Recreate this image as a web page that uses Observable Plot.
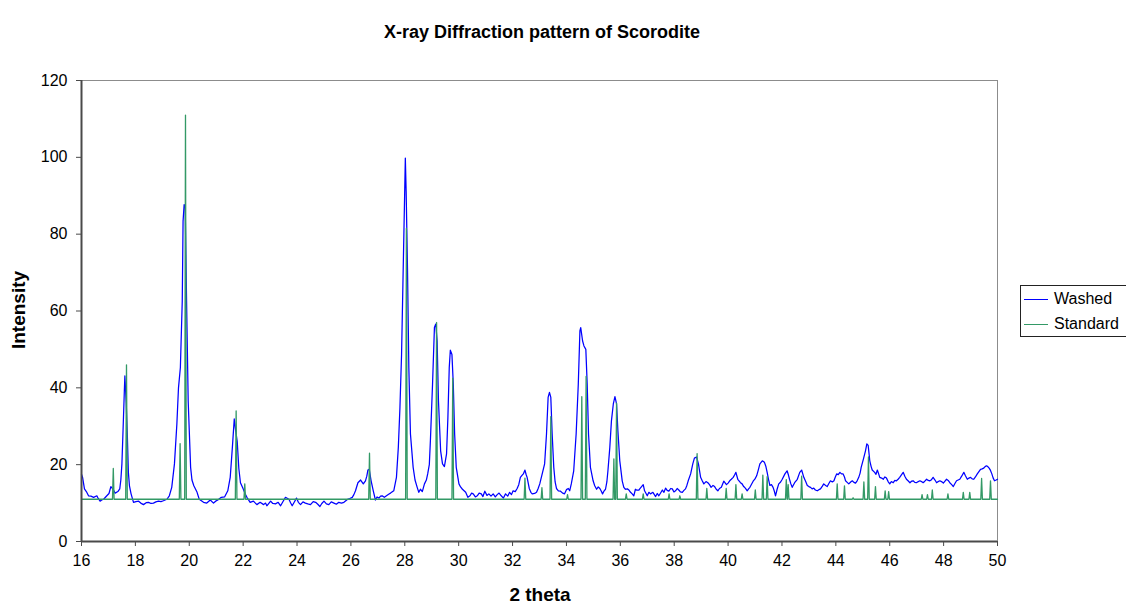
<!DOCTYPE html>
<html><head><meta charset="utf-8">
<script src="https://cdn.jsdelivr.net/npm/d3@7"></script>
<script src="https://cdn.jsdelivr.net/npm/@observablehq/plot@0.6"></script>
<style>
body{margin:0;background:#fff;}
#wrap{position:relative;width:1126px;height:607px;overflow:hidden;font-family:"Liberation Sans",Arial,sans-serif;color:#000;}
#title{position:absolute;left:0;width:1084px;top:22px;text-align:center;font-weight:bold;font-size:18px;}
#xlabel{position:absolute;left:0;width:1080px;top:584px;text-align:center;font-weight:bold;font-size:19px;}
#ylabel{position:absolute;left:19px;top:310px;transform:translate(-50%,-50%) rotate(-90deg);font-weight:bold;font-size:19px;white-space:nowrap;}
#legend{position:absolute;left:1020px;top:285px;width:130px;height:50px;border:1px solid #222;background:#fff;font-size:16px;}
.row{position:absolute;left:3px;height:20px;display:flex;align-items:center;}
.sw{width:24px;height:0;border-top:1px solid;margin-right:6px;}
#chart{position:absolute;left:0;top:0;}
</style></head><body><div id="wrap"><div id="chart"></div><div id="title"></div><div id="xlabel"></div><div id="ylabel"></div><div id="legend"></div></div>
<script>
const chartTitle = "X-ray Diffraction pattern of Scorodite";
const xTitle = "2 theta";
const yTitle = "Intensity";
const seriesNames = ["Washed", "Standard"];
const seriesColors = ["#0000ff", "#339966"];
const xTicks = [16,18,20,22,24,26,28,30,32,34,36,38,40,42,44,46,48,50];
const yTicks = [0,20,40,60,80,100,120];

const washedTheta = [16.0,16.04,16.11,16.18,16.26,16.35,16.45,16.57,16.62,16.69,16.75,16.82,16.94,17.02,17.09,17.16,17.25,17.35,17.42,17.46,17.5,17.55,17.59,17.61,17.66,17.7,17.74,17.78,17.84,17.93,18.02,18.12,18.2,18.3,18.4,18.49,18.58,18.67,18.76,18.86,18.95,19.04,19.17,19.26,19.35,19.45,19.54,19.6,19.67,19.74,19.77,19.81,19.85,19.9,19.96,20.05,20.1,20.17,20.29,20.37,20.45,20.53,20.65,20.78,20.9,20.98,21.06,21.19,21.31,21.43,21.52,21.6,21.67,21.72,21.78,21.84,21.9,22.0,22.07,22.14,22.26,22.38,22.51,22.63,22.76,22.83,22.88,23.02,23.1,23.2,23.3,23.39,23.48,23.57,23.7,23.76,23.82,23.9,23.98,24.05,24.13,24.22,24.31,24.4,24.5,24.6,24.69,24.77,24.85,24.92,25.0,25.09,25.18,25.27,25.37,25.46,25.55,25.65,25.74,25.81,25.88,25.96,26.05,26.11,26.17,26.26,26.36,26.46,26.54,26.59,26.63,26.68,26.75,26.83,26.91,26.97,27.04,27.1,27.16,27.24,27.32,27.4,27.47,27.59,27.69,27.76,27.82,27.88,27.93,27.98,28.02,28.05,28.1,28.15,28.21,28.31,28.38,28.46,28.52,28.58,28.65,28.73,28.8,28.85,28.91,28.95,29.03,29.1,29.15,29.2,29.25,29.33,29.4,29.47,29.55,29.6,29.65,29.69,29.75,29.8,29.85,29.91,30.01,30.07,30.14,30.26,30.34,30.42,30.48,30.54,30.62,30.69,30.76,30.84,30.9,30.97,31.05,31.12,31.2,31.28,31.36,31.43,31.5,31.58,31.66,31.74,31.82,31.89,31.96,32.02,32.1,32.17,32.23,32.29,32.35,32.4,32.46,32.5,32.54,32.62,32.68,32.73,32.82,32.89,32.95,33.01,33.1,33.19,33.26,33.32,33.37,33.42,33.47,33.53,33.58,33.63,33.7,33.78,33.86,33.93,34.0,34.07,34.12,34.18,34.27,34.36,34.44,34.5,34.53,34.6,34.65,34.72,34.77,34.82,34.89,34.99,35.05,35.12,35.18,35.24,35.3,35.34,35.4,35.45,35.5,35.54,35.61,35.67,35.74,35.8,35.86,35.91,35.98,36.07,36.13,36.19,36.26,36.32,36.38,36.44,36.5,36.56,36.6,36.69,36.72,36.85,36.9,37.0,37.06,37.12,37.21,37.31,37.37,37.43,37.5,37.56,37.62,37.68,37.74,37.8,37.87,37.93,37.99,38.05,38.11,38.17,38.23,38.3,38.36,38.42,38.47,38.52,38.61,38.69,38.75,38.83,38.9,38.98,39.04,39.1,39.18,39.25,39.31,39.37,39.44,39.5,39.56,39.62,39.68,39.75,39.84,39.94,40.0,40.06,40.12,40.19,40.24,40.29,40.36,40.46,40.52,40.58,40.64,40.71,40.76,40.81,40.87,40.93,41.0,41.06,41.12,41.18,41.27,41.35,41.4,41.45,41.5,41.55,41.61,41.67,41.72,41.76,41.82,41.88,41.95,42.01,42.11,42.19,42.24,42.28,42.33,42.38,42.47,42.57,42.66,42.73,42.81,42.88,42.94,43.0,43.06,43.12,43.18,43.24,43.31,43.37,43.43,43.5,43.55,43.62,43.68,43.74,43.8,43.87,43.93,43.98,44.03,44.09,44.15,44.21,44.27,44.32,44.36,44.42,44.48,44.55,44.61,44.67,44.73,44.79,44.85,44.9,44.94,45.02,45.1,45.15,45.2,45.26,45.31,45.35,45.44,45.49,45.54,45.58,45.63,45.7,45.76,45.82,45.88,45.94,46.0,46.06,46.13,46.19,46.25,46.31,46.37,46.44,46.5,46.56,46.62,46.68,46.75,46.81,46.87,46.93,46.99,47.06,47.12,47.18,47.24,47.3,47.37,47.43,47.49,47.55,47.61,47.68,47.74,47.8,47.86,47.92,47.99,48.05,48.11,48.17,48.23,48.3,48.36,48.42,48.48,48.54,48.6,48.67,48.75,48.81,48.88,48.94,49.0,49.06,49.12,49.18,49.25,49.31,49.37,49.43,49.49,49.54,49.59,49.64,49.69,49.74,49.79,49.84,49.89,49.95,50.0];
const washedIntensity = [17.5,16.7,13.7,13.0,11.9,11.8,11.5,11.9,11.2,10.5,10.8,11.0,11.9,12.5,14.3,13.7,12.6,13.0,13.7,16,20.2,30.6,39.2,43.1,36,28,18,14.5,12.4,10.2,10.4,10.5,10.0,9.6,10.1,10.2,9.9,10.0,10.3,10.5,10.4,10.6,11.0,11.9,14.1,20.2,30.6,40,45.3,62.6,83.4,87.7,87,62.6,36.6,19.3,16,14.5,12.8,11,10.6,10.2,10.0,10.8,10.0,10.5,10.8,11.5,11.6,13.2,16.7,24.5,31.9,29,26,19,15.3,13.7,12.5,11.5,10.2,10.5,9.6,10.2,9.6,10.0,9.3,10.5,9.9,9.8,10.2,9.3,10.4,11.5,11.0,10.1,9.3,10.3,11.3,10.2,9.6,10.3,10.0,9.8,9.6,10.4,10.2,9.7,9.1,9.9,10.5,9.8,9.6,10.3,10.0,9.7,10.2,10.0,10.2,10.6,11.0,11.2,11.5,12.2,13.2,15.3,16.0,15.0,15.8,17.0,18.6,18.8,15.8,13.2,10.8,11.6,11.3,11.8,11.9,11.5,11.9,12.3,12.6,13.2,16.7,24.5,34.9,48.7,66.9,85.1,99.8,91.2,71.2,45.3,28,19.3,16,14.1,12.8,13.6,13.0,15,16,17.6,20,26.2,41,55.7,56.6,52.2,36.6,23.6,20.2,19.5,22.8,32.3,45.3,49.8,48.7,41,28,19.3,15,14.2,13.6,12.8,11.5,11.9,12.6,12.4,11.6,11.9,12.6,12.4,11.7,13.1,12.0,12.4,11.8,12.4,11.6,12.2,12.6,11.9,11.3,12.4,11.8,12.8,12.2,13.2,13.0,13.8,14.8,16.7,17.2,17.6,18.6,17.5,16.7,13.8,12.8,12.4,12.5,12.8,13.8,15,17.6,20.2,28,37.5,38.8,37.5,28,19.3,15.5,13.8,13.2,13.1,12.6,12.4,13.5,13.8,13.2,15,18.4,28,41,54.8,55.7,52.2,50.9,50,41,28,19.3,15.8,14.5,13.6,14.2,13.8,13.0,12.4,13.2,13.6,15.5,18.4,24.5,31.4,35.8,37.7,35.8,28.8,21,15.8,14.1,13.6,13.7,13.4,12.8,12.4,11.9,13.6,13.4,13.4,13.7,14.8,13.2,11.9,12.8,12.4,12.8,11.7,12.5,11.9,12.7,13.4,12.8,13.9,13.3,13.1,13.8,13.7,12.9,13.2,13.8,13.4,12.9,12.8,13.3,13.7,14.6,15.8,17.6,20.2,21.7,22,20.2,16.7,15.8,15.0,15.6,15.3,14.8,14.1,14.6,14.3,13.6,13.2,13.8,14.1,15.7,14.8,15.2,15.8,16.2,16.7,17.3,18.0,16.2,15.3,15.0,14.3,13.9,13.2,13.7,14.1,14.9,15.7,16.3,17.1,18.6,20.2,21,20.6,19.6,18.0,16.2,14.6,14.8,14.1,13.0,11.9,13.6,15.0,15.5,16.2,17.6,18.4,17.3,16.2,15.0,14.1,15.3,16.2,18.0,18.6,16.7,15.6,14.6,14.3,14.1,13.7,13.9,13.4,13.2,13.5,13.7,14.4,15.0,14.6,14.3,15.1,15.8,15.5,15.8,16.8,17.6,17.4,18.0,17.6,17.6,16.8,15.8,15.4,15.0,15.5,15.8,15.4,15.2,15.8,16.7,17.8,19.3,21.4,23.6,25.4,25,21.0,19.5,18.6,18.0,17.5,18.6,17.8,16.7,16.5,16.2,16.8,16.5,15.6,15.0,15.6,15.3,15.9,15.8,16.2,16.7,17.4,18.0,17.0,16.2,15.8,15.3,15.7,15.8,15.4,15.3,15.6,15.8,15.6,15.3,15.7,16.2,15.9,15.8,16.1,16.7,16.0,15.3,15.6,15.8,15.6,15.2,15.7,16.2,15.9,15.3,14.8,14.3,15.1,15.8,16.0,16.2,17.0,18.0,17.1,16.2,16.5,16.7,16.3,16.2,16.8,17.6,18.2,18.8,18.9,19.1,19.5,19.7,19.5,19.1,18.5,17.6,16.5,15.8,16.0,16.2];

const standardBaseline = 11;
const standardTheta = [17.18,17.67,19.66,19.86,21.74,22.06,26.69,28.06,29.18,29.78,32.46,33.09,33.42,34.04,34.57,34.73,35.76,35.86,36.22,36.85,37.81,38.21,38.85,39.21,39.93,40.29,40.52,41.01,41.29,41.45,42.16,42.23,42.73,44.05,44.32,44.64,45.04,45.21,45.47,45.83,45.96,47.2,47.4,47.58,48.16,48.73,48.97,49.41,49.74];
const standardIntensity = [19,46,25.5,111,34,15,23,81.5,57,42.5,16.5,14,32.5,12.2,37.7,43,21.5,36,12.4,12.4,12.4,11.9,22.9,13.8,13.8,14.8,12.4,13.4,17.3,16.9,16.1,14.8,17,15,14.5,11.4,15.5,22,14.3,13.2,13,12.2,12.2,13.4,12.4,12.8,12.8,16.4,15.8];

// tables built from the arrays above
const washed = washedTheta.map((t, i) => ({theta: t, intensity: washedIntensity[i]}));
const halfWidth = 0.03;
const standard = [{theta: xTicks[0], intensity: standardBaseline}];
standardTheta.forEach((t, i) => {
  standard.push({theta: t - halfWidth, intensity: standardBaseline});
  standard.push({theta: t, intensity: standardIntensity[i]});
  standard.push({theta: t + halfWidth, intensity: standardBaseline});
});
standard.push({theta: xTicks[xTicks.length - 1], intensity: standardBaseline});

const xMin = xTicks[0], xMax = xTicks[xTicks.length - 1];
const yMin = yTicks[0], yMax = yTicks[yTicks.length - 1];

const chart = Plot.plot({
  width: 1126,
  height: 607,
  marginLeft: 81,
  marginRight: 129,
  marginTop: 80,
  marginBottom: 66,
  x: {domain: [xMin, xMax]},
  y: {domain: [yMin, yMax]},
  style: {fontFamily: '"Liberation Sans", Arial, sans-serif', fontSize: "16px", color: "#000", background: "transparent", overflow: "visible"},
  marks: [
    Plot.ruleY([yMax], {stroke: "#8c8c8c", strokeWidth: 1}),
    Plot.ruleX([xMax], {stroke: "#8c8c8c", strokeWidth: 1}),
    Plot.lineY(washed, {x: "theta", y: "intensity", stroke: seriesColors[0], strokeWidth: 1.25}),
    Plot.lineY(standard, {x: "theta", y: "intensity", stroke: seriesColors[1], strokeWidth: 1.3}),
    Plot.ruleX([xMin], {stroke: "#4a4a4a", strokeWidth: 2}),
    Plot.ruleY([yMin], {stroke: "#4a4a4a", strokeWidth: 2}),
    Plot.axisX({ticks: xTicks, tickSize: 5, tickPadding: 8, label: null, stroke: "#4a4a4a", fill: "#000", tickFormat: d => String(d)}),
    Plot.axisY({ticks: yTicks, tickSize: 5, tickPadding: 9, label: null, stroke: "#4a4a4a", fill: "#000", tickFormat: d => String(d)})
  ]
});
document.getElementById("chart").appendChild(chart);
document.getElementById("title").textContent = chartTitle;
document.getElementById("xlabel").textContent = xTitle;
document.getElementById("ylabel").textContent = yTitle;
const legend = document.getElementById("legend");
seriesNames.forEach((name, i) => {
  const row = document.createElement("div");
  row.className = "row";
  row.style.top = (3 + i * 25) + "px";
  const sw = document.createElement("span");
  sw.className = "sw";
  sw.style.borderTopColor = seriesColors[i];
  const tx = document.createElement("span");
  tx.textContent = name;
  row.appendChild(sw); row.appendChild(tx);
  legend.appendChild(row);
});
</script></body></html>
